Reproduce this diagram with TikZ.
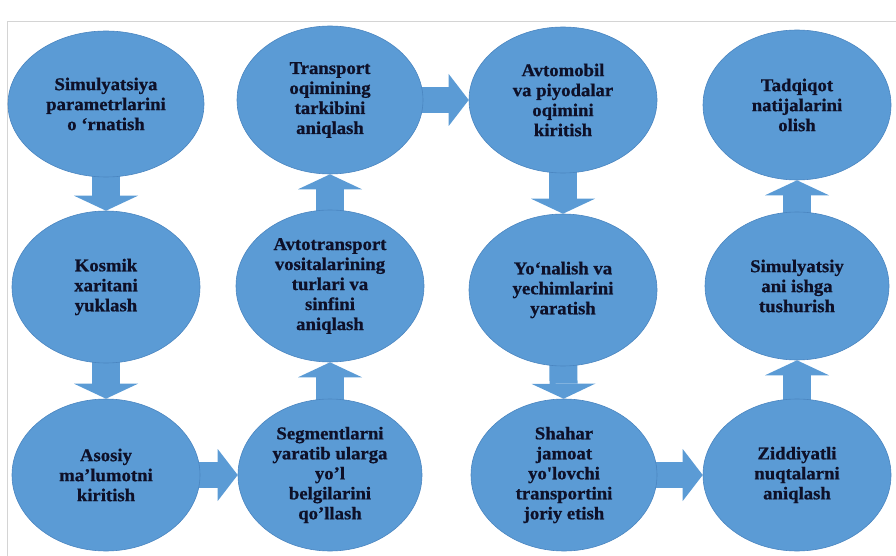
\documentclass[tikz,border=0pt]{standalone}
\usepackage{fontspec}
\setmainfont{Liberation Serif}
\newfontfamily\stagefont{Liberation Serif}[FakeStretch=1.04, BoldFeatures={FakeBold=0.8}]
\usetikzlibrary{positioning,shapes,backgrounds,arrows.meta}
\definecolor{stageblue}{HTML}{5B9BD5}
\definecolor{stageedge}{HTML}{4A85C0}
\definecolor{stagetext}{HTML}{0E1028}
\definecolor{framegray}{HTML}{D4D4D4}
\tikzset{
  stage/.style={ellipse, fill=stageblue, draw=stageedge, line width=0.6pt,
    minimum width=188pt, minimum height=152pt, inner sep=0pt, align=center,
    text=stagetext, font=\stagefont\bfseries\fontsize{18}{20}\selectfont},
  vflow/.style={draw=stageblue, line width=28pt,
    -{Triangle[width=64pt 0 0, length=15pt 0 0, line width=0pt]}, shorten <=-10pt},
  hflow/.style={draw=stageblue, line width=26pt,
    -{Triangle[width=52pt 0 0, length=20pt 0 0, line width=0pt]}, shorten <=-10pt}
}

\begin{document}
\begin{tikzpicture}[x=1pt, y=-1pt]
				\useasboundingbox (0,0) rectangle (896,556);
				\draw [framegray, line width=1pt] (7,556) |- (896,22);
				\node [stage, minimum width=196pt, minimum height=146pt] (param) at (106,104) {Simulyatsiya\\parametrlarini\\o ‘rnatish};
				\node [stage] (kosmik) at (106,287) {Kosmik\\xaritani\\yuklash};
				\node [stage] (asosiy) at (106,475) {Asosiy\\ma’lumotni\\kiritish};
				\node [stage, minimum width=184pt] (segment) at (330,475) {Segmentlarni\\yaratib ularga\\yo’l\\belgilarini\\qo’llash};
				\node [stage] (avtotr) at (330,286) {Avtotransport\\vositalarining\\turlari va\\sinfini\\aniqlash};
				\node [stage, minimum width=186pt, minimum height=148pt] (tarkib) at (330,100) {Transport\\oqimining\\tarkibini\\aniqlash};
				\node [stage, minimum height=146pt] (avtomob) at (563,100) {Avtomobil\\va piyodalar\\oqimini\\kiritish};
				\node [stage] (yonalish) at (563,290) {Yo‘nalish va\\yechimlarini\\yaratish};
				\node [stage, minimum width=186pt] (shahar) at (564,475) {Shahar\\jamoat\\yo'lovchi\\transportini\\joriy etish};
				\node [stage] (ziddiyat) at (797,475) {Ziddiyatli\\nuqtalarni\\aniqlash};
				\node [stage, minimum width=184pt, minimum height=148pt] (simul) at (797,286) {Simulyatsiy\\ani ishga\\tushurish};
				\node [stage, minimum height=150pt] (natija) at (797,105) {Tadqiqot\\natijalarini\\olish};
				\begin{scope}[on background layer]
					\draw [vflow] (param) -- (kosmik);
					\draw [vflow] (kosmik) -- (asosiy);
					\draw [hflow] (asosiy) -- (segment);
					\draw [vflow] (segment) -- (avtotr);
					\draw [vflow] (avtotr) -- (tarkib);
					\draw [hflow] (tarkib) -- (avtomob);
					\draw [vflow] (avtomob) -- (yonalish);
					\draw [vflow] (yonalish) -- (shahar);
					\draw [hflow] (shahar) -- (ziddiyat);
					\draw [vflow] (ziddiyat) -- (simul);
					\draw [vflow] (simul) -- (natija);
				\end{scope}
			\end{tikzpicture}
\end{document}
